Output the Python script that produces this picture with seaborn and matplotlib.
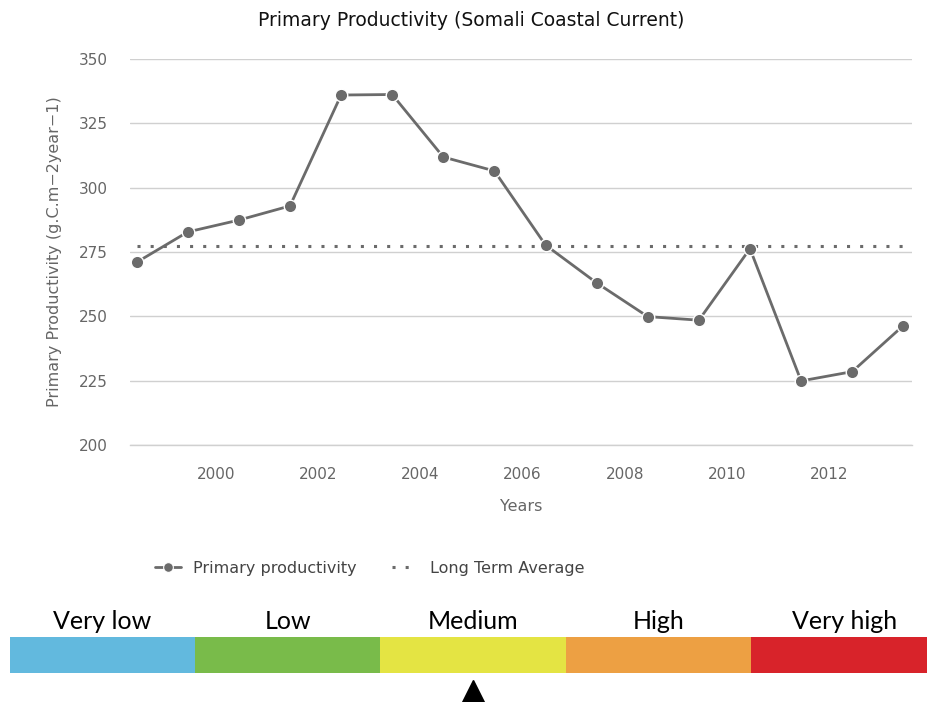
import numpy as np
import pandas as pd
import seaborn as sns
import matplotlib.pyplot as plt
from matplotlib.lines import Line2D

# data
years = [1998, 1999, 2000, 2001, 2002, 2003, 2004, 2005,
         2006, 2007, 2008, 2009, 2010, 2011, 2012, 2013]
productivity = [271.0, 282.8, 287.4, 292.9, 336.0, 336.2, 311.9, 306.5,
                277.7, 263.0, 249.9, 248.5, 276.3, 224.9, 228.5, 246.4]
long_term_avg = 277.2

classes = ["Very low", "Low", "Medium", "High", "Very high"]
class_colors = ["#62b9de", "#79bb4a", "#e4e443", "#eda043", "#d8232a"]
current_class = "Medium"

sns.set_style("white")
plt.rcParams['font.family'] = ['DejaVu Sans']

W, H = 927, 702
fig = plt.figure(figsize=(W / 100, H / 100), dpi=100)

# main chart, positioned in pixels
left, right, top, bottom = 130, 912, 59, 445
ax = fig.add_axes([left / W, 1 - bottom / H, (right - left) / W, (bottom - top) / H])

df = pd.DataFrame({"year": years, "value": productivity})
df["x"] = df["year"] + 0.45  # mid-year
df["avg"] = long_term_avg

grey = "#6b6b6b"
sns.lineplot(data=df, x="x", y="value", ax=ax, color=grey, linewidth=2,
             marker="o", markersize=9, markeredgecolor="white",
             markeredgewidth=1, zorder=3)
sns.lineplot(data=df, x="x", y="avg", ax=ax, color=grey, linewidth=2.2,
             zorder=2)
ax.lines[-1].set_linestyle((0, (1, 3.3)))

ax.set_xlim(1998.32, 2013.62)
ax.set_ylim(200, 350)
ax.set_yticks(np.arange(200, 351, 25))
ax.set_xticks(np.arange(2000, 2013, 2))
ax.grid(axis="y", color="#d0d0d0", linewidth=1)
ax.grid(axis="x", visible=False)
for s in ax.spines.values():
    s.set_visible(False)
ax.spines["bottom"].set_visible(True)
ax.spines["bottom"].set_color("#d0d0d0")
ax.spines["bottom"].set_linewidth(1)
ax.tick_params(axis="y", length=0, pad=16, labelsize=11, labelcolor="#666666")
ax.tick_params(axis="x", length=10, width=1, color="#d0d0d0", pad=6,
               labelsize=11, labelcolor="#666666")
ax.set_xlabel("Years", fontsize=11.5, color="#666666", labelpad=12)
ax.set_ylabel("Primary Productivity (g.C.m\u22122year\u22121)", fontsize=11.5,
              color="#666666", labelpad=12)

fig.text(471 / W, 1 - 20 / H, "Primary Productivity (Somali Coastal Current)",
         ha="center", va="center", fontsize=13.5, color="#111111")

# legend
handles = [
    Line2D([], [], color=grey, linewidth=2, marker="o", markersize=7,
           markeredgecolor="white", markeredgewidth=0.8),
    Line2D([], [], color=grey, linewidth=2.2, linestyle=(0, (1, 3.3))),
]
fig.legend(handles, ["Primary productivity", "Long Term Average"],
           loc="center", bbox_to_anchor=(370 / W, 1 - 568 / H), ncol=2,
           frameon=False, fontsize=11.5, labelcolor="#444444",
           handlelength=1.6, columnspacing=2.2, handletextpad=0.8)

# class colour bar
bx0, bw, by0, by1 = 9.5, 185.5, 637, 673
bax = fig.add_axes([bx0 / W, 1 - by1 / H, bw * len(classes) / W, (by1 - by0) / H])
bax.barh([0] * len(classes), [1] * len(classes), left=np.arange(len(classes)),
         height=1, color=class_colors, align="edge", linewidth=0)
bax.set_xlim(0, len(classes))
bax.set_ylim(0, 1)
bax.axis("off")
for i, name in enumerate(classes):
    bax.text(i + 0.5, 1.42, name, ha="center", va="center",
             fontsize=18, family=["Lato", "DejaVu Sans"], color="black",
             transform=bax.get_xaxis_transform())
k = classes.index(current_class)
bax.plot([k + 0.5], [-0.5], marker="^", markersize=15.5, color="black",
         clip_on=False, transform=bax.get_xaxis_transform())

fig.savefig("out.png", dpi=100)
